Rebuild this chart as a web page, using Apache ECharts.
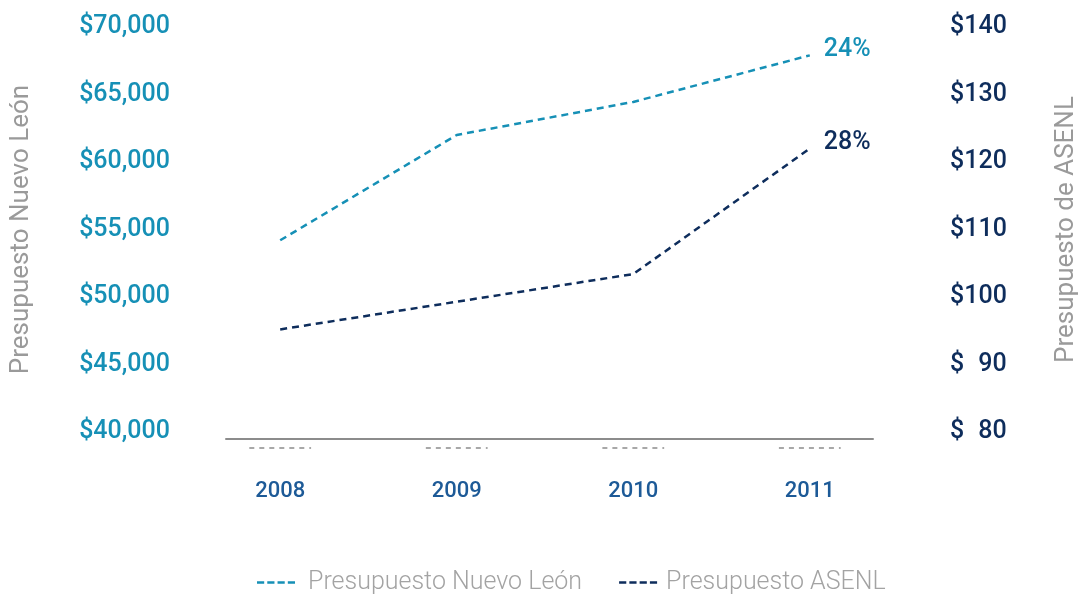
<!DOCTYPE html>
<html>
<head>
<meta charset="utf-8">
<script src="https://cdn.jsdelivr.net/npm/echarts@6/dist/echarts.min.js"></script>
<style>
  html, body { margin: 0; padding: 0; background: #fff; }
  #chart { width: 1087px; height: 596px; }
</style>
</head>
<body>
<div id="chart"></div>
<script>
// datos
const years = [2008, 2009, 2010, 2011]
const presupuestoNL = [54200, 62000, 64450, 67900]
const presupuestoASENL = [95.2, 99.3, 103.4, 122.0]
const growthLabels = ['24%', '28%']
const seriesNames = ['Presupuesto Nuevo León', 'Presupuesto ASENL']

const teal = '#1690b6'
const navy = '#0e2d5c'
const font = 'Roboto, "Noto Sans", sans-serif'
// icono de leyenda: cuatro guiones
const dashIcon = 'path://M0 0h7v2.5H0z M10 0h7v2.5h-7z M20 0h7v2.5h-7z M30 0h7v2.5h-7z'

const chart = echarts.init(document.getElementById('chart'))

function endLabel(label, color) {
  return {
    show: true,
    formatter: label,
    distance: 14,
    offset: [0, -6],
    color: color,
    fontSize: 25,
    fontWeight: 500,
    fontFamily: font,
  }
}

const option = {
  animation: false,
  grid: { left: 224, right: 207, top: 27, bottom: 164, containLabel: false },
  legend: {
    data: seriesNames,
    icon: dashIcon,
    left: 252,
    top: 565,
    itemWidth: 38,
    itemHeight: 3,
    itemGap: 37,
    textStyle: { color: '#a3a3a3', fontSize: 25, fontWeight: 300, fontFamily: font,
      rich: { p: { padding: [0, 0, 0, 8] }, q: { padding: [0, 0, 0, 4] } } },
    formatter: (name) => (name === seriesNames[0] ? '{p|' + name + '}' : '{q|' + name + '}'),
  },
  xAxis: {
    type: 'value',
    min: 2007.693,
    max: 2011.358,
    offset: 7,
    axisLine: { show: true, lineStyle: { color: '#8c8c8c', width: 2 } },
    axisTick: { show: false },
    splitLine: { show: false },
    axisLabel: {
      customValues: years,
      formatter: (v) => String(v),
      margin: 41,
      color: '#1d5a97',
      fontSize: 22,
      fontWeight: 500,
      fontFamily: font,
    },
  },
  yAxis: [
    {
      type: 'value',
      min: 40000,
      max: 70000,
      interval: 5000,
      name: 'Presupuesto Nuevo León',
      nameLocation: 'middle',
      nameRotate: 90,
      nameGap: 192,
      nameTextStyle: { color: '#9a9a9a', fontSize: 26, fontFamily: font },
      axisLine: { show: false },
      axisTick: { show: false },
      splitLine: { show: false },
      axisLabel: {
        margin: 56,
        color: teal,
        fontSize: 25,
        fontWeight: 500,
        fontFamily: font,
        formatter: (v) => '$' + v.toLocaleString('en-US'),
      },
    },
    {
      type: 'value',
      position: 'right',
      min: 80,
      max: 140,
      interval: 10,
      name: 'Presupuesto de ASENL',
      nameLocation: 'middle',
      nameRotate: 90,
      nameGap: 180,
      nameTextStyle: { color: '#9a9a9a', fontSize: 26, fontFamily: font },
      axisLine: { show: false },
      axisTick: { show: false },
      splitLine: { show: false },
      axisLabel: {
        margin: 77,
        color: navy,
        fontSize: 25,
        fontWeight: 500,
        fontFamily: font,
        formatter: (v) => (v < 100 ? '$\u2007' + v : '$' + v),
      },
    },
  ],
  series: [
    {
      name: seriesNames[0],
      type: 'line',
      yAxisIndex: 0,
      data: presupuestoNL.map((v, i) => [years[i], v]),
      symbol: 'none',
      color: teal,
      lineStyle: { color: teal, width: 2.5, type: [7, 5] },
      endLabel: endLabel(growthLabels[0], teal),
    },
    {
      name: seriesNames[1],
      type: 'line',
      yAxisIndex: 1,
      data: presupuestoASENL.map((v, i) => [years[i], v]),
      symbol: 'none',
      color: navy,
      lineStyle: { color: navy, width: 2.5, type: [7, 5] },
      endLabel: endLabel(growthLabels[1], navy),
    },
    {
      // marcas punteadas bajo el eje en cada año
      type: 'custom',
      silent: true,
      clip: false,
      data: years.map((y) => [y, 40000]),
      renderItem: (params, api) => {
        const x = api.value(0)
        const a = api.coord([x - 0.175, 40000])
        const b = api.coord([x + 0.175, 40000])
        return {
          type: 'line',
          shape: { x1: a[0], y1: a[1] + 16, x2: b[0], y2: b[1] + 16 },
          style: { stroke: '#a8a8a8', lineWidth: 2, lineDash: [5, 5] },
        }
      },
    },
  ],
}

chart.setOption(option)
</script>
</body>
</html>
